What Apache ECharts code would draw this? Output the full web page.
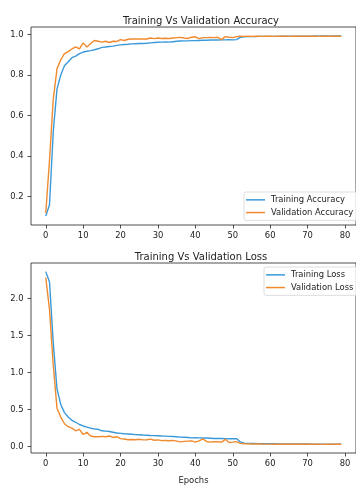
<!DOCTYPE html>
<html>
<head>
<meta charset="utf-8">
<script src="https://cdn.jsdelivr.net/npm/echarts@6/dist/echarts.min.js"></script>
<style>
  html, body { margin: 0; padding: 0; background: #fff; }
  #chart { width: 356px; height: 486px; }
</style>
</head>
<body>
<div id="chart"></div>
<script>
// Per-epoch metrics (epochs 0..79)
const trainAcc = [
  0.105, 0.16, 0.52, 0.73, 0.80, 0.845, 0.865, 0.885, 0.893, 0.905,
  0.913, 0.917, 0.920, 0.924, 0.929, 0.936, 0.938, 0.940, 0.942, 0.946,
  0.948, 0.950, 0.951, 0.953, 0.954, 0.955, 0.955, 0.956, 0.958, 0.960,
  0.961, 0.962, 0.963, 0.962, 0.964, 0.966, 0.967, 0.968, 0.968, 0.969,
  0.969, 0.970, 0.971, 0.971, 0.972, 0.973, 0.972, 0.973, 0.973, 0.974,
  0.973, 0.974, 0.985, 0.988, 0.989, 0.989, 0.989, 0.990, 0.990, 0.990,
  0.990, 0.990, 0.990, 0.991, 0.991, 0.991, 0.991, 0.991, 0.991, 0.991,
  0.991, 0.991, 0.992, 0.991, 0.992, 0.992, 0.991, 0.992, 0.992, 0.992
];
const valAcc = [
  0.12, 0.38, 0.68, 0.83, 0.875, 0.905, 0.915, 0.928, 0.938, 0.928,
  0.958, 0.938, 0.955, 0.970, 0.966, 0.962, 0.966, 0.960, 0.966, 0.965,
  0.974, 0.970, 0.976, 0.977, 0.977, 0.978, 0.977, 0.977, 0.982, 0.979,
  0.982, 0.980, 0.981, 0.980, 0.982, 0.984, 0.985, 0.982, 0.980, 0.986,
  0.988, 0.979, 0.984, 0.984, 0.985, 0.984, 0.986, 0.974, 0.989, 0.986,
  0.984, 0.989, 0.991, 0.990, 0.991, 0.990, 0.991, 0.991, 0.990, 0.991,
  0.991, 0.990, 0.991, 0.991, 0.991, 0.990, 0.991, 0.991, 0.991, 0.991,
  0.991, 0.991, 0.991, 0.990, 0.991, 0.991, 0.991, 0.991, 0.991, 0.991
];
const trainLoss = [
  2.36, 2.22, 1.40, 0.78, 0.57, 0.46, 0.40, 0.355, 0.33, 0.30,
  0.28, 0.265, 0.25, 0.24, 0.235, 0.215, 0.21, 0.205, 0.195, 0.185,
  0.18, 0.175, 0.172, 0.168, 0.163, 0.162, 0.158, 0.155, 0.152, 0.150,
  0.148, 0.145, 0.143, 0.140, 0.138, 0.135, 0.130, 0.128, 0.125, 0.120,
  0.122, 0.120, 0.118, 0.117, 0.115, 0.112, 0.112, 0.112, 0.110, 0.108,
  0.108, 0.110, 0.065, 0.048, 0.045, 0.044, 0.043, 0.042, 0.041, 0.041,
  0.040, 0.040, 0.039, 0.039, 0.038, 0.038, 0.037, 0.037, 0.036, 0.036,
  0.036, 0.035, 0.035, 0.035, 0.035, 0.034, 0.034, 0.034, 0.034, 0.034
];
const valLoss = [
  2.28, 1.85, 1.10, 0.52, 0.40, 0.31, 0.27, 0.25, 0.215, 0.235,
  0.165, 0.195, 0.145, 0.135, 0.135, 0.14, 0.135, 0.145, 0.125, 0.135,
  0.11, 0.105, 0.095, 0.098, 0.095, 0.10, 0.092, 0.095, 0.102, 0.088,
  0.092, 0.082, 0.085, 0.08, 0.085, 0.075, 0.065, 0.072, 0.075, 0.078,
  0.062, 0.078, 0.105, 0.07, 0.062, 0.068, 0.068, 0.062, 0.10, 0.058,
  0.062, 0.068, 0.045, 0.040, 0.038, 0.037, 0.036, 0.036, 0.035, 0.035,
  0.035, 0.034, 0.035, 0.034, 0.034, 0.033, 0.034, 0.033, 0.033, 0.033,
  0.033, 0.033, 0.033, 0.033, 0.032, 0.033, 0.033, 0.033, 0.033, 0.033
];

const xTicks = [0, 10, 20, 30, 40, 50, 60, 70, 80];
const accTicks = [0.2, 0.4, 0.6, 0.8, 1.0];
const lossTicks = [0.0, 0.5, 1.0, 1.5, 2.0];

const BLUE = '#3a9ad9';
const ORANGE = '#ef8a2e';
const INK = '#222';
const FONT = 'DejaVu Sans';
const SMALL = 8.4;

const epochs = trainAcc.map((_, i) => i);
const pairs = arr => arr.map((v, i) => [epochs[i], v]);

// 5% padding around the data range on each side
function padded(lo, hi) {
  const m = (hi - lo) * 0.05;
  return [lo - m, hi + m];
}
const [xMin, xMax] = padded(epochs[0], epochs[epochs.length - 1]);
const [accMin, accMax] = padded(Math.min(...trainAcc, ...valAcc), Math.max(...trainAcc, ...valAcc));
const [lossMin, lossMax] = padded(Math.min(...trainLoss, ...valLoss), Math.max(...trainLoss, ...valLoss));

const tickStyle = { show: true, length: 3.5, inside: false, lineStyle: { color: INK, width: 0.8 } };
const labelStyle = { color: INK, fontFamily: FONT, fontSize: SMALL };

function xAxis(gridIndex, withName) {
  return {
    type: 'value', gridIndex, min: xMin, max: xMax, position: 'bottom',
    splitLine: { show: false },
    axisLine: { show: false, onZero: false },
    axisTick: Object.assign({ customValues: xTicks }, tickStyle),
    axisLabel: Object.assign({ customValues: xTicks, margin: 7, formatter: v => String(Math.round(v)) }, labelStyle),
    name: withName ? 'Epochs' : '',
    nameLocation: 'middle', nameGap: 24,
    nameTextStyle: { color: INK, fontFamily: FONT, fontSize: SMALL }
  };
}
function yAxis(gridIndex, min, max, ticks) {
  return {
    type: 'value', gridIndex, min, max, position: 'left',
    splitLine: { show: false },
    axisLine: { show: false, onZero: false },
    axisTick: Object.assign({ customValues: ticks }, tickStyle),
    axisLabel: Object.assign({ customValues: ticks, margin: 7.5, formatter: v => v.toFixed(1) }, labelStyle)
  };
}
function line(name, arr, color, idx) {
  return {
    name, type: 'line', xAxisIndex: idx, yAxisIndex: idx,
    data: pairs(arr), symbol: 'none', showSymbol: false,
    lineStyle: { color, width: 1.4 }, itemStyle: { color },
    animation: false, z: 2
  };
}
function legend(names, left, top) {
  return {
    data: names.map(n => ({ name: n, icon: 'rect' })),
    orient: 'vertical', left, top,
    itemWidth: 19, itemHeight: 1.5, itemGap: 4,
    padding: [3.5, 4, 3.5, 2],
    backgroundColor: 'rgba(255,255,255,0.8)',
    borderColor: '#d6d6d6', borderWidth: 0.8, borderRadius: 2,
    textStyle: { color: INK, fontFamily: FONT, fontSize: SMALL, lineHeight: 8.7, padding: [0, 0, 0, 1] }
  };
}

const chart = echarts.init(document.getElementById('chart'), null, { renderer: 'canvas' });
chart.setOption({
  animation: false,
  backgroundColor: '#fff',
  title: [
    { text: 'Training Vs Validation Accuracy', left: 196, top: 11, textAlign: 'center',
      textStyle: { color: INK, fontFamily: FONT, fontSize: 10, fontWeight: 'normal' } },
    { text: 'Training Vs Validation Loss', left: 196, top: 247, textAlign: 'center',
      textStyle: { color: INK, fontFamily: FONT, fontSize: 10, fontWeight: 'normal' } }
  ],
  grid: [
    { left: 31, top: 27, width: 330, height: 198, show: true, borderColor: INK, borderWidth: 0.8, backgroundColor: 'transparent' },
    { left: 31, top: 263, width: 330, height: 198, show: true, borderColor: INK, borderWidth: 0.8, backgroundColor: 'transparent' }
  ],
  xAxis: [xAxis(0, false), xAxis(1, true)],
  yAxis: [yAxis(0, accMin, accMax, accTicks), yAxis(1, lossMin, lossMax, lossTicks)],
  legend: [
    legend(['Training Accuracy', 'Validation Accuracy'], 244, 192),
    legend(['Training Loss', 'Validation Loss'], 264, 267)
  ],
  series: [
    line('Training Accuracy', trainAcc, BLUE, 0),
    line('Validation Accuracy', valAcc, ORANGE, 0),
    line('Training Loss', trainLoss, BLUE, 1),
    line('Validation Loss', valLoss, ORANGE, 1)
  ]
});
</script>
</body>
</html>
